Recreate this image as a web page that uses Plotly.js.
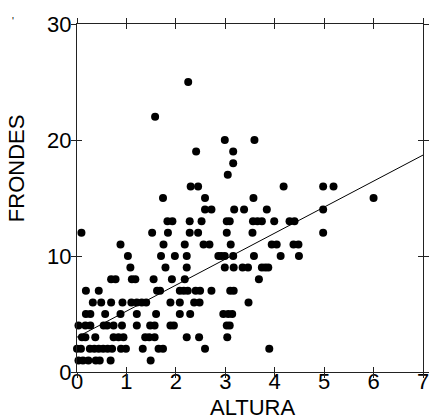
<!DOCTYPE html>
<html>
<head>
<meta charset="utf-8">
<script src="https://cdn.plot.ly/plotly-3.0.1.min.js"></script>
<style>html,body{margin:0;padding:0;background:#fff;}#chart{width:430px;height:419px;}</style>
</head>
<body>
<div id="chart"></div>
<script>
// ALTURA values grouped by FRONDES count
var altura_f1  = [0.03, 0.12, 0.23, 0.38, 0.46, 0.68, 1.49];
var altura_f2  = [0.0, 0.08, 0.26, 0.35, 0.44, 0.53, 0.62, 0.71, 0.89, 0.99, 1.33, 1.65, 1.74, 2.59, 3.89];
var altura_f3  = [0.10, 0.17, 0.37, 0.74, 0.84, 0.94, 1.38, 1.46, 1.57, 2.22, 2.47, 3.04];
var altura_f4  = [0.03, 0.17, 0.27, 0.54, 0.61, 0.74, 0.91, 1.21, 1.48, 1.57, 1.89, 1.96, 3.03, 3.09];
var altura_f5  = [0.18, 0.27, 0.57, 0.88, 1.21, 1.60, 2.08, 2.29, 2.96, 3.06, 3.14];
var altura_f6  = [0.32, 0.49, 0.69, 0.92, 1.10, 1.21, 1.31, 1.40, 1.89, 2.08, 2.37, 2.48, 3.47];
var altura_f7  = [0.18, 0.44, 1.62, 1.68, 2.08, 2.16, 2.24, 2.40, 2.49, 2.72, 3.10, 3.17];
var altura_f8  = [0.69, 0.78, 1.11, 1.18, 1.55, 1.92, 2.18, 3.68];
var altura_f9  = [1.08, 1.79, 2.22, 2.99, 3.17, 3.35, 3.46, 3.74, 3.81, 3.87];
var altura_f10 = [1.03, 1.70, 1.98, 2.22, 2.86, 2.92, 2.99, 3.16, 3.58, 4.12, 4.49];
var altura_f11 = [0.88, 1.75, 2.18, 2.56, 2.68, 3.11, 3.94, 4.04, 4.38, 4.48];
var altura_f12 = [0.09, 1.52, 1.84, 2.28, 2.45, 3.03, 3.55, 4.98];
var altura_f13 = [1.83, 1.93, 2.28, 2.52, 3.03, 3.09, 3.56, 3.65, 3.74, 3.99, 4.30, 4.40];
var altura_f14 = [2.59, 2.72, 3.18, 3.38, 3.84, 4.98];
var altura_f15 = [1.74, 2.59, 3.57, 6.0];
var altura_f16 = [2.30, 2.45, 4.18, 4.98, 5.19];
var altura_f17 = [3.05];
var altura_f18 = [3.16];
var altura_f19 = [2.41, 3.16];
var altura_f20 = [2.99, 3.59];
var altura_f22 = [1.58];
var altura_f25 = [2.25];

var groups = [
  [1, altura_f1], [2, altura_f2], [3, altura_f3], [4, altura_f4], [5, altura_f5],
  [6, altura_f6], [7, altura_f7], [8, altura_f8], [9, altura_f9], [10, altura_f10],
  [11, altura_f11], [12, altura_f12], [13, altura_f13], [14, altura_f14], [15, altura_f15],
  [16, altura_f16], [17, altura_f17], [18, altura_f18], [19, altura_f19], [20, altura_f20],
  [22, altura_f22], [25, altura_f25]
];

// fitted line endpoints
var lineX = [0, 7];
var lineY = [3.0, 18.7];

var xTicks = [0, 1, 2, 3, 4, 5, 6, 7];
var yTicks = [0, 10, 20, 30];
var xTitle = 'ALTURA';
var yTitle = 'FRONDES';

var px = [], py = [];
groups.forEach(function (g) {
  g[1].forEach(function (a) { px.push(a); py.push(g[0]); });
});

var FONT = 'Liberation Sans, Arial, sans-serif';

var traces = [
  {
    x: lineX, y: lineY, mode: 'lines', type: 'scatter',
    line: {color: '#000', width: 1}, hoverinfo: 'skip', showlegend: false
  },
  {
    x: px, y: py, mode: 'markers', type: 'scatter',
    marker: {color: '#000', size: 8, line: {width: 0}},
    cliponaxis: false, showlegend: false
  },
  { x: [], y: [], xaxis: 'x2', yaxis: 'y2', type: 'scatter', mode: 'markers', showlegend: false }
];

var axCommon = {
  showgrid: false, zeroline: false, linecolor: '#222', linewidth: 1,
  tickcolor: '#222', tickwidth: 1, ticklen: 5, mirror: 'ticks', showline: true
};

var layout = {
  width: 430, height: 419,
  margin: {l: 77, r: 7, t: 24, b: 47, pad: 0},
  paper_bgcolor: '#fff', plot_bgcolor: '#fff',
  font: {family: FONT, color: '#000', size: 22},
  showlegend: false,
  xaxis: Object.assign({}, axCommon, {
    range: [0, 7], tickvals: xTicks, ticktext: xTicks.map(String),
    ticks: 'inside', tickfont: {family: FONT, size: 22, color: '#000'},
    ticklabelstandoff: -10
  }),
  yaxis: Object.assign({}, axCommon, {
    range: [0, 30], tickvals: yTicks, ticktext: yTicks.map(String),
    ticks: 'inside', tickfont: {family: FONT, size: 22, color: '#000'}
  }),
  xaxis2: Object.assign({}, axCommon, {
    range: [0, 7], tickvals: xTicks, overlaying: 'x', anchor: 'y2',
    ticks: 'outside', showticklabels: false
  }),
  yaxis2: Object.assign({}, axCommon, {
    range: [0, 30], tickvals: yTicks, overlaying: 'y', anchor: 'x2',
    ticks: 'outside', showticklabels: false
  }),
  annotations: [
    {
      text: xTitle, xref: 'paper', yref: 'paper', x: 0.507, y: -0.102,
      xanchor: 'center', yanchor: 'middle', showarrow: false,
      font: {family: FONT, size: 22, color: '#000'}
    },
    {
      text: yTitle, xref: 'paper', yref: 'paper', x: -0.176, y: 0.586,
      xanchor: 'center', yanchor: 'middle', textangle: -90, showarrow: false,
      font: {family: FONT, size: 22, color: '#000'}
    },
    {
      text: "'", xref: 'paper', yref: 'paper', x: -0.185, y: 1.006,
      xanchor: 'center', yanchor: 'middle',
      showarrow: false, font: {family: FONT, size: 10, color: '#000'}
    }
  ]
};

Plotly.newPlot('chart', traces, layout, {displayModeBar: false, staticPlot: true});
</script>
</body>
</html>
